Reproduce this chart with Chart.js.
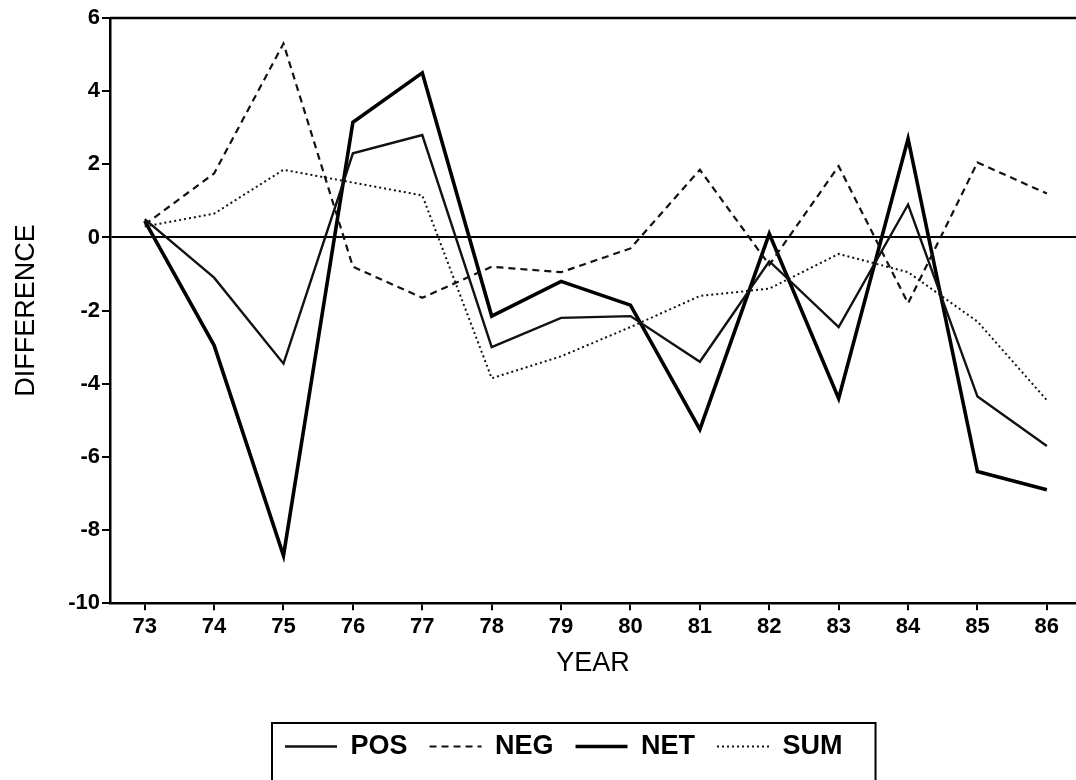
<!DOCTYPE html>
<html>
<head>
<meta charset="utf-8">
<script src="https://cdn.jsdelivr.net/npm/chart.js@4.4.1/dist/chart.umd.min.js"></script>
<style>
  body { margin: 0; background: #fff; }
  #wrap { width: 1076px; height: 780px; }
</style>
</head>
<body>
<div id="wrap"><canvas id="diffChart" width="1076" height="780"></canvas></div>
<script>
// {year by year difference - line chart}

const years = [73, 74, 75, 76, 77, 78, 79, 80, 81, 82, 83, 84, 85, 86];
const posData = [0.5, -1.1, -3.45, 2.3, 2.8, -3.0, -2.2, -2.15, -3.4, -0.65, -2.45, 0.9, -4.35, -5.7];
const negData = [0.35, 1.75, 5.3, -0.8, -1.65, -0.8, -0.95, -0.3, 1.85, -0.75, 1.95, -1.8, 2.05, 1.2];
const netData = [0.45, -2.95, -8.7, 3.15, 4.5, -2.15, -1.2, -1.85, -5.25, 0.1, -4.4, 2.7, -6.4, -6.9];
const sumData = [0.3, 0.65, 1.85, 1.5, 1.15, -3.85, -3.25, -2.45, -1.6, -1.4, -0.45, -0.95, -2.3, -4.45];
const yTicks = [-10, -8, -6, -4, -2, 0, 2, 4, 6];

function toPoints(values) {
    return years.map((yr, i) => ({ x: yr, y: values[i] }));
}

// top frame line + box round the legend
const framePlugin = {
    id: 'framePlugin',
    afterUpdate(chart) {
        // legend sits a bit left of the plot centre in the original
        const legend = chart.legend;
        const boxes = legend.legendHitBoxes;
        if (boxes && boxes.length) {
            const dx = 285 - boxes[0].left;
            const tops = boxes.map(b => b.top);
            legend.left += dx;
            legend.right += dx;
            legend.adjustHitBoxes();
            // adjustHitBoxes adds the top offset again, undo that
            boxes.forEach((b, i) => { b.top = tops[i]; });
        }
    },
    afterDraw(chart) {
        const ctx = chart.ctx;
        const area = chart.chartArea;
        ctx.save();
        ctx.strokeStyle = '#000';
        ctx.lineWidth = 2.5;
        ctx.beginPath();
        ctx.moveTo(area.left, area.top);
        ctx.lineTo(area.right, area.top);
        ctx.stroke();

        const legend = chart.legend;
        const boxes = legend.legendHitBoxes;
        if (boxes && boxes.length) {
            let left = Math.min(...boxes.map(b => b.left));
            let right = Math.max(...boxes.map(b => b.left + b.width));
            let top = legend.top + legend.options.labels.padding;
            ctx.lineWidth = 2;
            ctx.strokeRect(left - 13, top - 10, (right - left) + 46, 120);
        }
        ctx.restore();
    }
};

const ChartA = document.getElementById('diffChart');
const diffChart = new Chart(ChartA, {
    type: 'line',
    data: {
        datasets: [{
            label: 'POS',
            data: toPoints(posData),
            borderColor: '#111',
            backgroundColor: '#111',
            borderWidth: 2.4,
            pointRadius: 0,
            tension: 0
        },
        {
            label: 'NEG',
            data: toPoints(negData),
            borderColor: '#111',
            backgroundColor: '#111',
            borderWidth: 2.2,
            borderDash: [7, 5],
            pointRadius: 0,
            tension: 0
        },
        {
            label: 'NET',
            data: toPoints(netData),
            borderColor: '#000',
            backgroundColor: '#000',
            borderWidth: 3.6,
            pointRadius: 0,
            tension: 0
        },
        {
            label: 'SUM',
            data: toPoints(sumData),
            borderColor: '#111',
            backgroundColor: '#111',
            borderWidth: 2,
            borderDash: [2, 3],
            pointRadius: 0,
            tension: 0
        }]
    },
    options: {
        responsive: false,
        animation: false,
        layout: {
            padding: { top: 18, right: 0, left: 0, bottom: 10 }
        },
        scales: {
            x: {
                type: 'linear',
                min: 72.5,
                max: 86.42,
                grid: {
                    drawOnChartArea: false,
                    color: '#000',
                    tickColor: '#000',
                    tickLength: 7,
                    lineWidth: 2
                },
                border: { display: true, color: '#000', width: 2.5 },
                ticks: {
                    stepSize: 1,
                    includeBounds: false,
                    autoSkip: false,
                    maxRotation: 0,
                    color: '#000',
                    padding: 4,
                    font: { family: 'Liberation Sans', size: 22, weight: 'bold' },
                    callback: (v) => String(v)
                },
                title: {
                    display: true,
                    text: 'YEAR',
                    color: '#000',
                    padding: { top: 3, bottom: 31 },
                    font: { family: 'Liberation Sans', size: 27 }
                }
            },
            y: {
                min: -10,
                max: 6,
                afterFit: (scale) => { scale.width = 110; },
                afterBuildTicks: (scale) => { scale.ticks = yTicks.map(v => ({ value: v })); },
                grid: {
                    drawOnChartArea: true,
                    color: (ctx) => (ctx.tick && ctx.tick.value === 0) ? '#000' : 'rgba(0,0,0,0)',
                    tickColor: '#000',
                    tickLength: 8,
                    lineWidth: 2
                },
                border: { display: true, color: '#000', width: 2.5 },
                ticks: {
                    color: '#000',
                    padding: 2,
                    font: { family: 'Liberation Sans', size: 22, weight: 'bold' }
                },
                title: {
                    display: true,
                    text: 'DIFFERENCE',
                    color: '#000',
                    padding: { top: 10, bottom: 0 },
                    font: { family: 'Liberation Sans', size: 27 }
                }
            }
        },
        plugins: {
            legend: {
                display: true,
                position: 'bottom',
                fullSize: false,
                labels: {
                    usePointStyle: true,
                    pointStyle: 'line',
                    pointStyleWidth: 52,
                    padding: 22,
                    color: '#000',
                    font: { family: 'Liberation Sans', size: 27, weight: 'bold' },
                    // point-style items lose the dash, so put it back from the dataset
                    generateLabels: (chart) => {
                        const items = Chart.defaults.plugins.legend.labels.generateLabels(chart);
                        items.forEach((item) => {
                            const ds = chart.data.datasets[item.datasetIndex];
                            item.lineDash = ds.borderDash || [];
                            item.lineWidth = ds.borderWidth;
                            item.strokeStyle = ds.borderColor;
                        });
                        return items;
                    }
                }
            },
            tooltip: { enabled: false },
            title: { display: false }
        }
    },
    plugins: [framePlugin]
});
</script>
</body>
</html>
